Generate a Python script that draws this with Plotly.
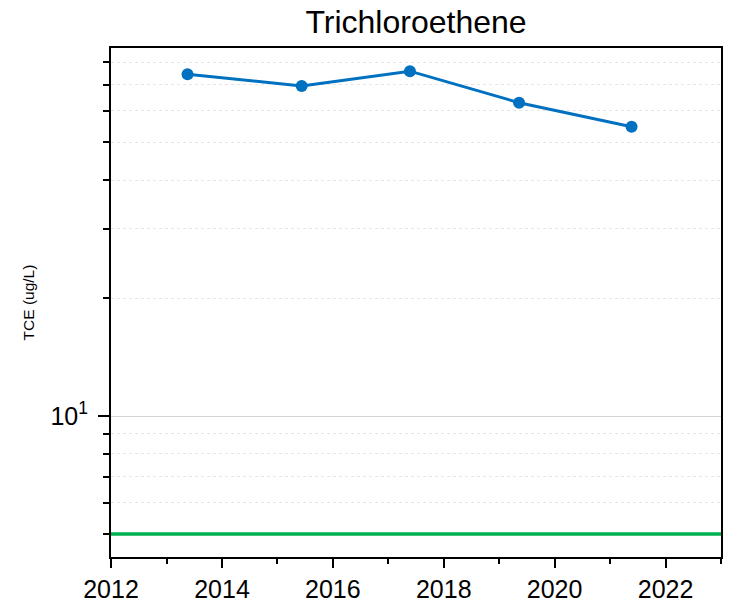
import plotly.graph_objects as go

# Data
sample_dates = ["2013-05-19", "2015-06-10", "2017-05-23", "2019-05-12", "2021-05-22"]
tce_values = [74.4, 69.5, 75.8, 63.0, 54.7]
mcl_value = 5
title_text = "Trichloroethene"
y_title = "TCE (ug/L)"
y_major_ticks = [10]
y_major_labels = ["10<sup>1</sup>"]
y_minor_ticks = [5, 6, 7, 8, 9, 20, 30, 40, 50, 60, 70, 80]

FONT = "Arial, Liberation Sans, Helvetica, sans-serif"

fig = go.Figure()
fig.add_trace(go.Scatter(
    x=sample_dates, y=tce_values, mode="lines+markers",
    line=dict(color="#0070C0", width=3),
    marker=dict(color="#0070C0", size=12),
    showlegend=False,
))
fig.add_shape(type="line", xref="x domain", x0=0, x1=1, yref="y", y0=mcl_value, y1=mcl_value,
              line=dict(color="#00B050", width=3.5))

fig.update_layout(
    width=738, height=604,
    margin=dict(l=111, r=17, t=48, b=47, autoexpand=False),
    plot_bgcolor="white", paper_bgcolor="white",
    font=dict(family=FONT, color="black"),
    title=dict(text=title_text, x=0.5, xref="paper", xanchor="center",
               y=1 - 22 / 604, yanchor="middle", font=dict(size=32, color="black")),
)
fig.update_xaxes(
    type="date", range=["2012-01-01", "2023-01-01"],
    tick0="2012-01-01", dtick="M24", tickformat="%Y",
    ticks="outside", ticklen=9, tickwidth=2, tickcolor="black",
    tickfont=dict(size=25), automargin=False,
    showline=True, linecolor="black", linewidth=2, mirror=True,
    showgrid=False, zeroline=False,
    minor=dict(dtick="M12", tick0="2012-01-01", ticks="outside", ticklen=5, tickwidth=2,
               tickcolor="black", showgrid=False),
)
fig.update_yaxes(
    type="log", range=[0.6403, 1.9388],
    tickmode="array", tickvals=y_major_ticks, ticktext=y_major_labels,
    ticks="outside", ticklen=11, tickwidth=2, tickcolor="black",
    tickfont=dict(size=25), ticklabelstandoff=5, automargin=False,
    showline=True, linecolor="black", linewidth=2, mirror=True,
    showgrid=True, gridcolor="#d4d4d4", gridwidth=1,
    zeroline=False,
    title=dict(text=y_title, font=dict(size=15.5), standoff=12),
    minor=dict(tickmode="array", tickvals=y_minor_ticks, ticks="outside", ticklen=6,
               tickwidth=2, tickcolor="black", showgrid=True, gridcolor="#e6e6e6",
               griddash="dot", gridwidth=1),
)

fig.write_html("out.html", config={"displayModeBar": False},
               post_script="document.body.style.margin='0';")
